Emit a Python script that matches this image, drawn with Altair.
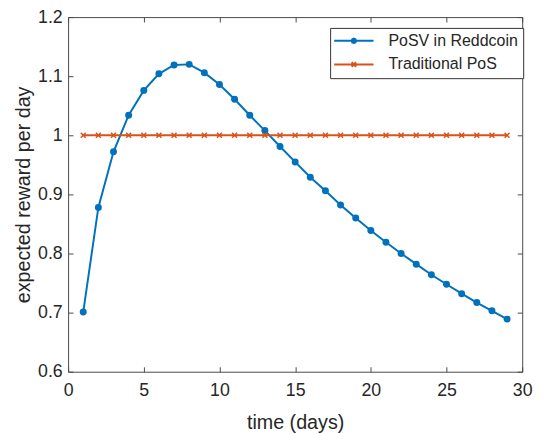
import altair as alt
import pandas as pd

# ---- data ----
days = list(range(1, 30))
posv = [0.701, 0.878, 0.972, 1.034, 1.076, 1.104, 1.119, 1.120, 1.106, 1.086,
        1.061, 1.034, 1.008, 0.981, 0.955, 0.929, 0.906, 0.882, 0.860, 0.839,
        0.819, 0.800, 0.782, 0.764, 0.748, 0.732, 0.717, 0.703, 0.689]
trad = [1.0, 1.0, 1.0, 1.0, 1.0, 1.0, 1.0, 1.0, 1.0, 1.0,
        1.0, 1.0, 1.0, 1.0, 1.0, 1.0, 1.0, 1.0, 1.0, 1.0,
        1.0, 1.0, 1.0, 1.0, 1.0, 1.0, 1.0, 1.0, 1.0]
series_names = ["PoSV in Reddcoin", "Traditional PoS"]
colors = ["#0072BD", "#D95319"]
x_ticks = [0, 5, 10, 15, 20, 25, 30]
y_ticks = [0.6, 0.7, 0.8, 0.9, 1.0, 1.1, 1.2]

df = pd.DataFrame({
    "day": days + days,
    "value": posv + trad,
    "series": [series_names[0]] * len(days) + [series_names[1]] * len(days),
})
# off-scale rows: only used to build the legend (their points are clipped away)
legend_df = pd.DataFrame({"series": series_names, "day": [-50, -50], "value": [0, 0]})

FONT = "Liberation Sans"
TXT = "#262626"
AX = "#4a4a4a"

xs = alt.Scale(domain=[0, 30], nice=False, zero=False)
ys = alt.Scale(domain=[0.6, 1.2], nice=False, zero=False)
cs = alt.Scale(domain=series_names, range=colors)

common_axis = dict(domain=False, offset=-5, tickSize=5, tickColor=AX, tickWidth=1,
                   grid=False, labelFont=FONT, labelFontSize=18, labelColor=TXT,
                   titleFont=FONT, titleFontSize=20, titleFontWeight="normal",
                   titleColor=TXT)

x_bottom = alt.Axis(orient="bottom", values=x_ticks, title="time (days)",
                    labelPadding=10, titlePadding=14, labelFlush=False, **common_axis)
y_left = alt.Axis(orient="left", values=y_ticks, format="~g", title="expected reward per day",
                  labelPadding=6, titlePadding=4, labelFlush=False, **common_axis)
x_top = alt.Axis(orient="top", values=x_ticks, labels=False, title=None,
                 domain=False, offset=-5, tickSize=5, tickColor=AX, tickWidth=1, grid=False)
y_right = alt.Axis(orient="right", values=y_ticks, labels=False, title=None,
                   domain=False, offset=-5, tickSize=5, tickColor=AX, tickWidth=1, grid=False)

paths = ["M-4,0L4,0M0.45,0L0.318,0.318L0,0.45L-0.318,0.318L-0.45,0L-0.318,-0.318L0,-0.45L0.318,-0.318Z",
         "M-4,0L4,0M-0.45,-0.45L0.45,0.45M-0.45,0.45L0.45,-0.45"]

leg = alt.Legend(title=None, orient="none", legendX=266, legendY=11,
                 fillColor="white", strokeColor="#333333", padding=5,
                 labelFont=FONT, labelFontSize=16.2, labelColor=TXT,
                 symbolSize=100, symbolStrokeWidth=2, symbolOffset=11,
                 labelOffset=27, rowPadding=7)

base = alt.Chart(df)

legend_layer = alt.Chart(legend_df).mark_point(filled=False, clip=True, size=100,
                                               strokeWidth=2, opacity=1).encode(
    x=alt.X("day:Q", scale=xs, axis=None),
    y=alt.Y("value:Q", scale=ys, axis=None),
    color=alt.Color("series:N", scale=cs, legend=leg),
    shape=alt.Shape("series:N", scale=alt.Scale(domain=series_names, range=paths), legend=leg),
)

lines = base.mark_line(strokeWidth=2, clip=True).encode(
    x=alt.X("day:Q", scale=xs, axis=x_bottom),
    y=alt.Y("value:Q", scale=ys, axis=y_left),
    color=alt.Color("series:N", scale=cs),
)

circles = base.mark_point(shape="circle", filled=True, size=50, opacity=1).encode(
    x=alt.X("day:Q", scale=xs, axis=None),
    y=alt.Y("value:Q", scale=ys, axis=None),
    color=alt.Color("series:N", scale=cs),
).transform_filter(alt.datum.series == series_names[0])

crosses = base.mark_point(shape="M-1,-1L1,1M-1,1L1,-1", filled=False, size=25,
                          strokeWidth=1.5, opacity=1).encode(
    x=alt.X("day:Q", scale=xs, axis=x_top),
    y=alt.Y("value:Q", scale=ys, axis=y_right),
    color=alt.Color("series:N", scale=cs),
).transform_filter(alt.datum.series == series_names[1])

chart = alt.layer(legend_layer, lines, circles, crosses).resolve_axis(
    x="independent", y="independent"
).properties(
    width=461, height=360,
    autosize=alt.AutoSizeParams(type="none"),
    padding={"left": 61, "top": 6, "right": 14, "bottom": 60},
).configure_view(stroke=AX, strokeWidth=1)

chart.save("out.html", embed_options={"renderer": "svg", "actions": False})
